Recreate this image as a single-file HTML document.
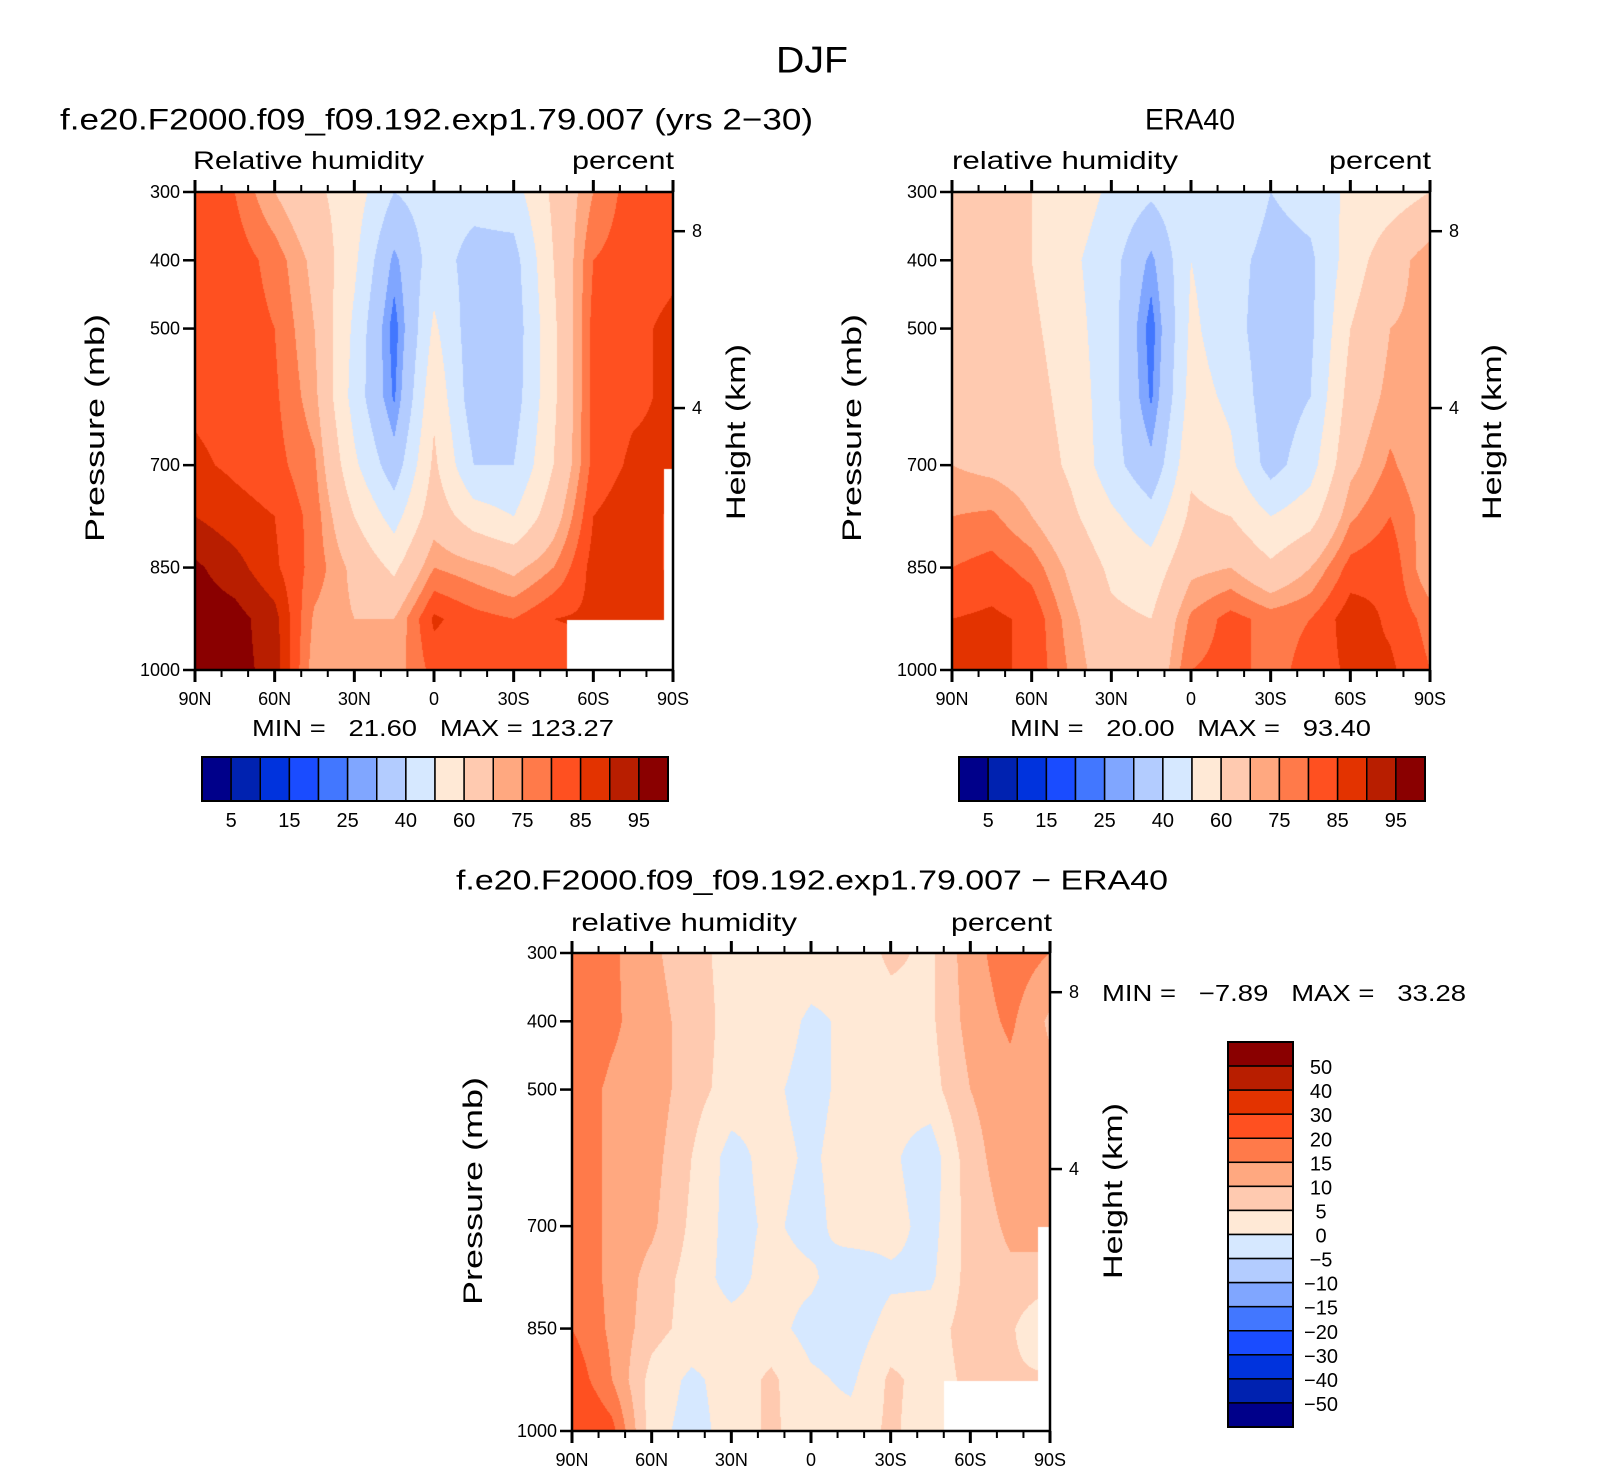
<!DOCTYPE html>
<html><head><meta charset="utf-8"><title>DJF Relative humidity</title>
<style>
html,body{margin:0;padding:0;background:#fff;}
#wrap{position:relative;width:1624px;height:1476px;overflow:hidden;font-family:"Liberation Sans",sans-serif;}
canvas{position:absolute;}
svg{position:absolute;left:0;top:0;}
</style></head>
<body>
<div id="wrap">
<canvas id="c1"></canvas>
<canvas id="c2"></canvas>
<canvas id="c3"></canvas>
<svg id="svg" width="1624" height="1476"></svg>
</div>
<script>
// ---- data ----
const lats = [90,75,60,45,30,15,0,-15,-30,-45,-60,-75,-90];
const levels = [300,400,500,600,700,775,850,925,1000];
const modelRH = [
 [83,80,70,62,55,40,45,44,46,62,75,83,84],
 [84,83,78,68,52,28,45,36,36,60,80,83,84],
 [84,83,80,70,48,22,52,34,34,58,82,84,86],
 [84,83,81,72,46,24,58,34,35,58,82,84,86],
 [86,84,82,76,52,34,62,40,40,60,82,86,86],
 [90,87,85,78,60,46,66,55,50,66,85,88,84],
 [96,92,86,78,68,58,75,72,68,75,87,88,84],
 [98,97,92,74,70,70,86,82,80,85,86,86,86],
 [98,97,93,72,72,72,82,82,82,82,82,82,82]
];
const eraRH = [
 [62,62,60,56,48,42,48,50,40,44,52,55,60],
 [64,63,60,52,44,28,50,44,36,38,55,66,74],
 [65,64,62,54,44,22,52,44,34,38,60,70,72],
 [66,65,64,56,44,24,54,48,34,40,64,72,74],
 [70,68,66,58,44,32,58,52,36,46,68,76,70],
 [75,76,70,62,52,44,62,60,50,56,74,80,72],
 [80,82,78,68,58,54,68,70,62,70,82,84,70],
 [85,86,84,72,62,60,76,82,78,80,88,84,78],
 [90,86,84,74,64,62,80,82,78,82,86,86,80]
];
const diffRH = [
 [20,16,11,7,3,5,3,2,6,4,13,18,15],
 [20,16,12,8,3,3,-1,1,3,4,12,16,9],
 [18,14,13,7,3,1,-2,2,2,3,10,13,12],
 [18,14,12,5,-2,2,-1,3,1,-3,8,13,12],
 [18,14,11,4,-2,1,-2,3,2,-2,7,11,12],
 [18,14,8,3,-2,2,1,-4,-1,-1,7,9,8],
 [20,14,7,3,2,2,-2,-3,2,3,7,6,-2],
 [24,15,3,-1,2,6,1,-1,6,3,6,6,6],
 [28,22,2,-2,2,6,2,2,6,2,6,6,6]
];
const rhBounds = [5,10,15,20,25,30,40,50,60,70,75,80,85,90,95];
const rhLabels = ["5","15","25","40","60","75","85","95"];
const diffBounds = [-50,-40,-30,-20,-15,-10,-5,0,5,10,15,20,30,40,50];
const diffLabels = ["50","40","30","20","15","10","5","0","\u22125","\u221210","\u221215","\u221220","\u221230","\u221240","\u221250"];
const xTickLabels = ["90N","60N","30N","0","30S","60S","90S"];
const pTicks = [300,400,500,700,850,1000];
const hTicks = [8,4];
const hTickFrac = [0.082,0.452];
const palette = ["#00008a","#0022b0","#0033dd","#1a4cff","#4277ff","#80a6ff","#b3ccff","#d6e8ff",
 "#ffe9d6","#ffcab0","#ffa880","#ff7a4a","#ff5020","#e33300","#b81e00","#8a0000"];

const NS="http://www.w3.org/2000/svg";
const svg=document.getElementById('svg');
function mk(tag,attrs,parent){const e=document.createElementNS(NS,tag);for(const k in attrs)e.setAttribute(k,attrs[k]);(parent||svg).appendChild(e);return e;}
function txt(s,x,y,size,anchor,extra){const t=mk('text',Object.assign({x:x,y:y,'font-size':size,'text-anchor':anchor||'middle','dominant-baseline':'central','font-family':'Liberation Sans, sans-serif',fill:'#000'},extra||{}));t.textContent=s;return t;}
function hex(c){return [parseInt(c.substr(1,2),16),parseInt(c.substr(3,2),16),parseInt(c.substr(5,2),16)];}
const palRGB=palette.map(hex);

function makeAxes(P){
  P.xs=lat=>P.x0+(90-lat)/180*P.w;
  P.ys=p=>P.y0+(p-300)/700*P.h;
}
function interp(grid,lat,p){
  let fi=(90-lat)/15; let i=Math.min(Math.floor(fi),lats.length-2); let ti=fi-i;
  let j=0; while(j<levels.length-2 && p>levels[j+1]) j++;
  let tj=(p-levels[j])/(levels[j+1]-levels[j]);
  const a=grid[j][i],b=grid[j][i+1],c=grid[j+1][i],d=grid[j+1][i+1];
  return (a*(1-ti)+b*ti)*(1-tj)+(c*(1-ti)+d*ti)*tj;
}
function cls(v,b){let k=0;while(k<b.length&&v>=b[k])k++;return k;}
function drawField(id,P,grid,bounds,masks){
  const cv=document.getElementById(id);
  cv.width=P.w;cv.height=P.h;cv.style.left=P.x0+'px';cv.style.top=P.y0+'px';
  const ctx=cv.getContext('2d');const im=ctx.createImageData(P.w,P.h);
  for(let py=0;py<P.h;py++){
    const p=300+(py+0.5)/P.h*700;
    for(let px=0;px<P.w;px++){
      const lat=90-(px+0.5)/P.w*180;
      let masked=false;
      for(const m of masks){if(lat<m[0]&&p>m[1]){masked=true;break;}}
      const o=(py*P.w+px)*4;
      if(masked){im.data[o]=255;im.data[o+1]=255;im.data[o+2]=255;im.data[o+3]=255;continue;}
      const c=palRGB[cls(interp(grid,lat,p),bounds)];
      im.data[o]=c[0];im.data[o+1]=c[1];im.data[o+2]=c[2];im.data[o+3]=255;
    }
  }
  ctx.putImageData(im,0,0);
}
function drawFrame(P,pre){
  const g=mk('g',{});
  
  
  mk('rect',{x:P.x0,y:P.y0,width:P.w,height:P.h,fill:'none',stroke:'#000','stroke-width':2.5},g);
  for(let lat=90;lat>=-90;lat-=10){
    const x=P.xs(lat);const major=(lat%30===0);const L=major?12:7;
    mk('line',{x1:x,y1:P.y0+P.h,x2:x,y2:P.y0+P.h+L,stroke:'#000','stroke-width':major?3:2},g);
    mk('line',{x1:x,y1:P.y0,x2:x,y2:P.y0-L,stroke:'#000','stroke-width':major?3:2},g);
  }
  xTickLabels.forEach((s,i)=>{const t=txt(s,P.xs(90-30*i),P.y0+P.h+29,18,'middle');g.appendChild(t);
    });
  pTicks.forEach(p=>{const y=P.ys(p);
    mk('line',{x1:P.x0-12,y1:y,x2:P.x0,y2:y,stroke:'#000','stroke-width':2.5},g);
    const t=txt(String(p),P.x0-15,y,18,'end');g.appendChild(t);
    });
  hTicks.forEach((h,i)=>{const y=P.y0+hTickFrac[i]*P.h;
    mk('line',{x1:P.x0+P.w,y1:y,x2:P.x0+P.w+12,y2:y,stroke:'#000','stroke-width':2.5},g);
    const t=txt(String(h),P.x0+P.w+24,y,18,'middle');g.appendChild(t);
    });
}
function hbar(x0,y0,w,h,pre){
  const n=palette.length,bw=w/n;
  const g=mk('g',{});
  
  
  palette.forEach((c,i)=>mk('rect',{x:x0+i*bw,y:y0,width:bw,height:h,fill:c,stroke:'#000','stroke-width':1.5},g));
  mk('rect',{x:x0,y:y0,width:w,height:h,fill:'none',stroke:'#000','stroke-width':2},g);
  rhLabels.forEach((s,k)=>{const t=txt(s,x0+(2*k+1)*bw,y0+h+20,20,'middle');g.appendChild(t);});
}

const P1={x0:195,y0:192,w:478,h:478};
const P2={x0:952,y0:192,w:478,h:478};
const P3={x0:572,y0:953,w:478,h:478};
[P1,P2,P3].forEach(makeAxes);

drawField('c1',P1,modelRH,rhBounds,[[-50,927],[-86.5,705]]);
drawField('c2',P2,eraRH,rhBounds,[]);
drawField('c3',P3,diffRH,diffBounds,[[-50,927],[-85.6,701]]);
drawFrame(P1,'model');drawFrame(P2,'era40');drawFrame(P3,'difference');

const PRE={style:'white-space:pre'};
let t;
t=txt('DJF',812,60,37,'middle',{textLength:72,lengthAdjust:'spacingAndGlyphs','font-weight':'normal'});

t=txt('f.e20.F2000.f09_f09.192.exp1.79.007 (yrs 2\u221230)',60,120,30,'start',{textLength:753,lengthAdjust:'spacingAndGlyphs'});

t=txt('ERA40',1190,120,30,'middle',{textLength:90,lengthAdjust:'spacingAndGlyphs'});

t=txt('Relative humidity',193,161,25,'start',{textLength:231,lengthAdjust:'spacingAndGlyphs'});

t=txt('percent',674,161,25,'end',{textLength:102,lengthAdjust:'spacingAndGlyphs'});

t=txt('relative humidity',952,161,25,'start',{textLength:226,lengthAdjust:'spacingAndGlyphs'});

t=txt('percent',1431,161,25,'end',{textLength:102,lengthAdjust:'spacingAndGlyphs'});

t=txt('f.e20.F2000.f09_f09.192.exp1.79.007 \u2212 ERA40',456,880,28,'start',{textLength:712,lengthAdjust:'spacingAndGlyphs'});

t=txt('relative humidity',571,923,25,'start',{textLength:226,lengthAdjust:'spacingAndGlyphs'});

t=txt('percent',1052,923,25,'end',{textLength:101,lengthAdjust:'spacingAndGlyphs'});


t=txt('MIN =   21.60   MAX = 123.27',252,728,23,'start',Object.assign({textLength:362,lengthAdjust:'spacingAndGlyphs'},PRE));

t=txt('MIN =   20.00   MAX =   93.40',1010,728,23,'start',Object.assign({textLength:361,lengthAdjust:'spacingAndGlyphs'},PRE));

t=txt('MIN =   \u22127.89   MAX =   33.28',1102,993,23,'start',Object.assign({textLength:364,lengthAdjust:'spacingAndGlyphs'},PRE));


function vlabel(s,x,y,len,name){const e=txt(s,x,y,27,'middle',{transform:'rotate(-90 '+x+' '+y+')',textLength:len,lengthAdjust:'spacingAndGlyphs'});
  }
vlabel('Pressure (mb)',95,428,228,'model-y-axis-title');
vlabel('Height (km)',736,432,176,'model-right-axis-title');
vlabel('Pressure (mb)',852,428,228,'era40-y-axis-title');
vlabel('Height (km)',1492,432,176,'era40-right-axis-title');
vlabel('Pressure (mb)',473,1191,228,'difference-y-axis-title');
vlabel('Height (km)',1113,1191,176,'difference-right-axis-title');

hbar(202,757,466,44,'model');
hbar(959,757,466,44,'era40');

// vertical colorbar for difference
(function(){
  const x0=1228,y0=1042,w=65,h=385,n=palette.length,bh=h/n;
  const g=mk('g',{});
  
  
  for(let i=0;i<n;i++) mk('rect',{x:x0,y:y0+i*bh,width:w,height:bh,fill:palette[n-1-i],stroke:'#000','stroke-width':1.5},g);
  mk('rect',{x:x0,y:y0,width:w,height:h,fill:'none',stroke:'#000','stroke-width':2},g);
  diffLabels.forEach((s,k)=>{const e=txt(s,1321,y0+(k+1)*bh+2,20,'middle');g.appendChild(e);});
})();
</script>
</body></html>
